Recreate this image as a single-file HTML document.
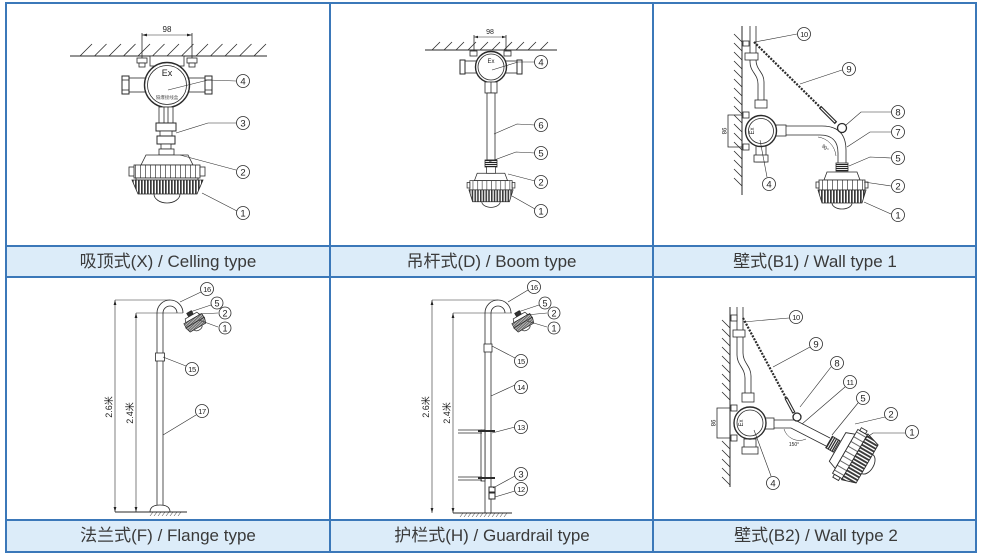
<!DOCTYPE html>
<html><head><meta charset="utf-8"><style>
html,body{margin:0;padding:0;background:#fff;width:983px;height:558px;overflow:hidden}
svg{display:block}
</style></head><body>
<svg width="983" height="558" viewBox="0 0 983 558" xmlns="http://www.w3.org/2000/svg">
<defs>
<pattern id="fins" width="3" height="10" patternUnits="userSpaceOnUse"><rect width="3" height="10" fill="#fff"/><rect width="1.7" height="10" fill="#3a3a3a"/></pattern>
<pattern id="posts" width="5" height="10" patternUnits="userSpaceOnUse"><rect width="5" height="10" fill="#fff"/><rect width="0.8" height="10" fill="#555"/></pattern>
<pattern id="thr" width="10" height="2" patternUnits="userSpaceOnUse"><rect width="10" height="2" fill="#fff"/><rect width="10" height="1.1" fill="#222"/></pattern>
</defs>

<!-- caption bands -->
<rect x="6" y="246" width="970" height="31" fill="#dcecf9"/>
<rect x="6" y="520" width="970" height="32" fill="#dcecf9"/>

<!-- ============ CELL 1 : Ceiling ============ -->
<g stroke="#2a2a2a" stroke-width="0.8" fill="none">
 <line x1="70" y1="56" x2="267" y2="56" stroke-width="1"/>
 <line x1="80" y1="56" x2="92" y2="44"/><line x1="94.5" y1="56" x2="106.5" y2="44"/><line x1="109" y1="56" x2="121" y2="44"/><line x1="123.5" y1="56" x2="135.5" y2="44"/><line x1="138" y1="56" x2="150" y2="44"/><line x1="152.5" y1="56" x2="164.5" y2="44"/><line x1="167" y1="56" x2="179" y2="44"/><line x1="181.5" y1="56" x2="193.5" y2="44"/><line x1="196" y1="56" x2="208" y2="44"/><line x1="210.5" y1="56" x2="222.5" y2="44"/><line x1="225" y1="56" x2="237" y2="44"/><line x1="239.5" y1="56" x2="251.5" y2="44"/><line x1="254" y1="56" x2="266" y2="44"/>
 <!-- dimension -->
 <line x1="142" y1="33" x2="142" y2="66"/><line x1="192" y1="33" x2="192" y2="66"/>
 <line x1="142" y1="35" x2="192" y2="35" stroke-width="0.6"/>
 <!-- bolts -->
 <rect x="137" y="58" width="10" height="5" fill="#fff"/><rect x="139" y="63" width="6" height="4" fill="#fff"/>
 <rect x="187" y="58" width="10" height="5" fill="#fff"/><rect x="189" y="63" width="6" height="4" fill="#fff"/>
 <rect x="150" y="56" width="34" height="10" fill="#fff"/>
 <!-- side pipes -->
 <rect x="128" y="78" width="22" height="14" fill="#fff"/>
 <rect x="122" y="76" width="7" height="18" fill="#fff" stroke-width="1"/>
 <line x1="122" y1="80" x2="129" y2="80"/><line x1="122" y1="90" x2="129" y2="90"/>
 <rect x="184" y="78" width="22" height="14" fill="#fff"/>
 <rect x="205" y="76" width="7" height="18" fill="#fff" stroke-width="1"/>
 <line x1="205" y1="80" x2="212" y2="80"/><line x1="205" y1="90" x2="212" y2="90"/>
 <!-- box -->
 <circle cx="167" cy="85" r="22.5" stroke-width="1.4" fill="#fff"/>
 <circle cx="167" cy="85" r="19.5"/>
 <!-- stem -->
 <rect x="159" y="107" width="14" height="16" fill="#fff"/>
 <line x1="164" y1="107" x2="164" y2="123"/><line x1="168" y1="107" x2="168" y2="123"/>
 <rect x="156" y="123" width="20" height="8" fill="#fff" stroke-width="1"/>
 <rect x="160" y="131" width="12" height="5" fill="#fff"/>
 <rect x="157" y="136" width="18" height="8" fill="#fff" stroke-width="1"/>
 <rect x="161" y="144" width="10" height="5" fill="#fff"/>
 <!-- lamp -->
 <rect x="159" y="149" width="15" height="6" fill="#fff"/>
 <path d="M141,165 L146,155 L188,155 L193,165 Z" fill="#fff"/>
 <rect x="134" y="165" width="66" height="13" fill="url(#posts)"/>
 <rect x="129" y="167" width="5" height="9" fill="#fff"/><rect x="200" y="167" width="5" height="9" fill="#fff"/>
 <rect x="136" y="178" width="62" height="2" fill="#fff"/>
 <polygon points="132,180 203,180 197,194 138,194" fill="url(#fins)"/>
 <path d="M154,194 A13,9 0 0 0 180,194"/>
 <!-- leaders -->
 <polyline points="236,81 208,80 168,90" stroke-width="0.6"/>
 <polyline points="236,123 208,123 176,133" stroke-width="0.6"/>
 <line x1="236" y1="170" x2="180" y2="155" stroke-width="0.6"/>
 <line x1="237" y1="211" x2="202" y2="193" stroke-width="0.6"/>
</g>
<polygon points="142,35 147,33.6 147,36.4" fill="#222"/><polygon points="192,35 187,33.6 187,36.4" fill="#222"/>

<!-- ============ CELL 2 : Boom ============ -->
<g stroke="#2a2a2a" stroke-width="0.8" fill="none">
 <line x1="425" y1="50" x2="557" y2="50" stroke-width="1"/>
 <line x1="432" y1="50" x2="440" y2="42"/><line x1="444" y1="50" x2="452" y2="42"/><line x1="456" y1="50" x2="464" y2="42"/><line x1="468" y1="50" x2="476" y2="42"/><line x1="480" y1="50" x2="488" y2="42"/><line x1="492" y1="50" x2="500" y2="42"/><line x1="504" y1="50" x2="512" y2="42"/><line x1="516" y1="50" x2="524" y2="42"/><line x1="528" y1="50" x2="536" y2="42"/><line x1="540" y1="50" x2="548" y2="42"/>
 <line x1="474" y1="35" x2="474" y2="56"/><line x1="506" y1="35" x2="506" y2="56"/>
 <line x1="474" y1="37" x2="506" y2="37" stroke-width="0.6"/>
 <rect x="470" y="51" width="7" height="5" fill="#fff"/><rect x="504" y="51" width="7" height="5" fill="#fff"/>
 <rect x="463" y="61" width="14" height="12" fill="#fff"/>
 <rect x="460" y="60" width="5" height="14" fill="#fff" stroke-width="1"/>
 <rect x="505" y="61" width="14" height="12" fill="#fff"/>
 <rect x="517" y="60" width="5" height="14" fill="#fff" stroke-width="1"/>
 <circle cx="491" cy="67" r="15.5" stroke-width="1.4" fill="#fff"/>
 <circle cx="491" cy="67" r="13"/>
 <rect x="485" y="82" width="12" height="11" fill="#fff"/>
 <line x1="491" y1="82" x2="491" y2="93"/>
 <rect x="487" y="93" width="8" height="67" fill="#fff"/>
 <rect x="485" y="160" width="12" height="7" fill="url(#thr)"/>
 <g transform="translate(491,165) scale(0.92)">
  <path d="M-18,17 L-15,9 L15,9 L18,17 Z" fill="#fff"/>
  <rect x="-5" y="2" width="10" height="7" fill="#fff"/>
  <rect x="-23" y="17" width="46" height="10" fill="url(#posts)"/>
  <rect x="-26" y="19" width="3" height="6" fill="#fff"/><rect x="23" y="19" width="3" height="6" fill="#fff"/>
  <polygon points="-24,27 24,27 20,40 -20,40" fill="url(#fins)"/>
  <path d="M-10,40 A10,6 0 0 0 10,40"/>
 </g>
 <polyline points="535,62 518,62 492,70" stroke-width="0.6"/>
 <polyline points="535,125 517,124 494,134" stroke-width="0.6"/>
 <polyline points="535,153 516,152 489,162" stroke-width="0.6"/>
 <line x1="535" y1="181" x2="508" y2="174" stroke-width="0.6"/>
 <line x1="535" y1="209" x2="512" y2="196" stroke-width="0.6"/>
</g>
<polygon points="474,37 478,35.8 478,38.2" fill="#222"/><polygon points="506,37 502,35.8 502,38.2" fill="#222"/>

<!-- ============ CELL 3 : Wall type 1 ============ -->
<g stroke="#2a2a2a" stroke-width="0.8" fill="none">
 <line x1="742" y1="26" x2="742" y2="195" stroke-width="1"/>
 <line x1="734" y1="34" x2="742" y2="42"/><line x1="734" y1="43" x2="742" y2="51"/><line x1="734" y1="52" x2="742" y2="60"/><line x1="734" y1="61" x2="742" y2="69"/><line x1="734" y1="70" x2="742" y2="78"/><line x1="734" y1="79" x2="742" y2="87"/><line x1="734" y1="88" x2="742" y2="96"/><line x1="734" y1="97" x2="742" y2="105"/><line x1="734" y1="106" x2="742" y2="114"/><line x1="734" y1="115" x2="742" y2="123"/><line x1="734" y1="124" x2="742" y2="132"/><line x1="734" y1="133" x2="742" y2="141"/><line x1="734" y1="142" x2="742" y2="150"/><line x1="734" y1="151" x2="742" y2="159"/><line x1="734" y1="160" x2="742" y2="168"/><line x1="734" y1="169" x2="742" y2="177"/><line x1="734" y1="178" x2="742" y2="186"/>
 <path d="M750,26 L750,62 C750,72 758,74 758,84 L758,100"/>
 <path d="M756,26 L756,60 C756,70 764,72 764,82 L764,100"/>
 <rect x="743" y="41" width="6" height="5" fill="#fff"/>
 <rect x="745" y="53" width="13" height="7" fill="#fff"/>
 <polyline points="742,115 728,115 728,147 742,147"/>
 <rect x="743" y="112" width="6" height="6" fill="#fff"/><rect x="743" y="144" width="6" height="6" fill="#fff"/>
 <rect x="755" y="100" width="12" height="8" fill="#fff"/>
 <rect x="756" y="146" width="10" height="16" fill="#fff"/>
 <rect x="754" y="155" width="14" height="7" fill="#fff"/>
 <rect x="776" y="125" width="10" height="11" fill="#fff"/>
 <path d="M786,126 L822,126 Q846,126 846,150 L846,163"/>
 <path d="M786,135 L820,135 Q838,135 838,153 L838,163"/>
 <path d="M818,137 A21,21 0 0 1 836,156" stroke-width="0.5"/>
 <circle cx="761" cy="131" r="15.5" stroke-width="1.4" fill="#fff"/>
 <circle cx="761" cy="131" r="12.5"/>
 <line x1="754" y1="42" x2="820" y2="107" stroke-width="2.2" stroke-dasharray="2 1.3"/>
 <line x1="820" y1="107" x2="836" y2="123" stroke-width="3.4"/>
 <line x1="821" y1="108" x2="835" y2="122" stroke="#fff" stroke-width="1.2"/>
 <circle cx="842" cy="128" r="4.5" stroke-width="1.3" fill="#fff"/>
 <rect x="836" y="163" width="12" height="8" fill="url(#thr)"/>
 <g transform="translate(842,163)">
  <path d="M-18,17 L-15,9 L15,9 L18,17 Z" fill="#fff"/>
  <rect x="-23" y="17" width="46" height="10" fill="url(#posts)"/>
  <rect x="-26" y="19" width="3" height="6" fill="#fff"/><rect x="23" y="19" width="3" height="6" fill="#fff"/>
  <polygon points="-24,27 24,27 20,40 -20,40" fill="url(#fins)"/>
  <path d="M-10,40 A10,6 0 0 0 10,40"/>
 </g>
 <line x1="797" y1="34" x2="755" y2="42" stroke-width="0.6"/>
 <line x1="842" y1="70" x2="800" y2="84" stroke-width="0.6"/>
 <polyline points="891,112 861,112 846,125" stroke-width="0.6"/>
 <polyline points="891,132 870,132 847,147" stroke-width="0.6"/>
 <polyline points="891,158 870,157 849,166" stroke-width="0.6"/>
 <line x1="891" y1="186" x2="864" y2="182" stroke-width="0.6"/>
 <line x1="891" y1="214" x2="864" y2="202" stroke-width="0.6"/>
 <line x1="767" y1="177" x2="760" y2="140" stroke-width="0.6"/>
</g>

<!-- ============ CELL 4 : Flange ============ -->
<g stroke="#2a2a2a" stroke-width="0.8" fill="none">
 <path d="M157,510 L157,313 A13,13 0 0 1 183,313"/>
 <path d="M163,510 L163,313 A7,7 0 0 1 177,313"/>
 <rect x="155.5" y="353" width="9" height="8" fill="#fff"/>
 <path d="M150,512 Q150,505 160,505 Q170,505 170,512" fill="#fff"/>
 <line x1="115" y1="300" x2="170" y2="300" stroke-width="0.6"/>
 <line x1="115" y1="300" x2="115" y2="512" stroke-width="0.6"/>
 <line x1="136" y1="313" x2="183" y2="313" stroke-width="0.6"/>
 <line x1="136" y1="313" x2="136" y2="512" stroke-width="0.6"/>
 <line x1="115" y1="512" x2="187" y2="512" stroke-width="1"/>
 <path d="M150,516 L153,512 M154,516 L157,512 M158,516 L161,512 M162,516 L165,512 M166,516 L169,512 M170,516 L173,512 M174,516 L177,512 M178,516 L181,512" stroke-width="0.5"/>
 <g transform="translate(189,312) rotate(-30) scale(0.45)" stroke-width="1.6">
  <rect x="-6" y="0" width="12" height="8" fill="#333"/>
  <path d="M-18,17 L-15,9 L15,9 L18,17 Z" fill="#fff"/>
  <rect x="-23" y="17" width="46" height="10" fill="url(#fins)"/>
  <polygon points="-24,27 24,27 20,40 -20,40" fill="url(#fins)"/>
  <path d="M-10,40 A10,6 0 0 0 10,40"/>
 </g>
 <line x1="201" y1="292" x2="180" y2="302" stroke-width="0.6"/>
 <line x1="211" y1="305" x2="190" y2="312" stroke-width="0.6"/>
 <line x1="218" y1="313" x2="198" y2="314" stroke-width="0.6"/>
 <line x1="218" y1="327" x2="199" y2="320" stroke-width="0.6"/>
 <line x1="186" y1="366" x2="163" y2="357" stroke-width="0.6"/>
 <line x1="196" y1="415" x2="163" y2="435" stroke-width="0.6"/>
</g>
<polygon points="115,300 113.6,305 116.4,305" fill="#222"/><polygon points="115,512 113.6,507 116.4,507" fill="#222"/>
<polygon points="136,313 134.6,318 137.4,318" fill="#222"/><polygon points="136,512 134.6,507 137.4,507" fill="#222"/>

<!-- ============ CELL 5 : Guardrail ============ -->
<g stroke="#2a2a2a" stroke-width="0.8" fill="none">
 <path d="M485,513 L485,313 A13,13 0 0 1 511,313"/>
 <path d="M491,513 L491,313 A7,7 0 0 1 505,313"/>
 <rect x="484" y="344" width="8" height="8" fill="#fff"/>
 <rect x="481" y="430" width="4" height="51" fill="#fff"/>
 <line x1="458" y1="430" x2="482" y2="430"/><line x1="458" y1="433" x2="482" y2="433"/>
 <line x1="458" y1="477" x2="482" y2="477"/><line x1="458" y1="480" x2="482" y2="480"/>
 <line x1="478" y1="431" x2="495" y2="431" stroke-width="2"/>
 <line x1="478" y1="478" x2="495" y2="478" stroke-width="2"/>
 <rect x="489" y="487" width="6" height="5" fill="#fff" stroke-width="1"/>
 <rect x="489" y="493" width="6" height="6" fill="#fff" stroke-width="1"/>
 <line x1="432" y1="300" x2="498" y2="300" stroke-width="0.6"/>
 <line x1="432" y1="300" x2="432" y2="513" stroke-width="0.6"/>
 <line x1="453" y1="313" x2="512" y2="313" stroke-width="0.6"/>
 <line x1="453" y1="313" x2="453" y2="513" stroke-width="0.6"/>
 <line x1="453" y1="513" x2="512" y2="513" stroke-width="1"/>
 <path d="M460,517 L463,513 M464,517 L467,513 M468,517 L471,513 M472,517 L475,513 M476,517 L479,513 M480,517 L483,513 M484,517 L487,513 M488,517 L491,513 M492,517 L495,513 M496,517 L499,513 M500,517 L503,513 M504,517 L507,513" stroke-width="0.5"/>
 <g transform="translate(517,312) rotate(-30) scale(0.45)" stroke-width="1.6">
  <rect x="-6" y="0" width="12" height="8" fill="#333"/>
  <path d="M-18,17 L-15,9 L15,9 L18,17 Z" fill="#fff"/>
  <rect x="-23" y="17" width="46" height="10" fill="url(#fins)"/>
  <polygon points="-24,27 24,27 20,40 -20,40" fill="url(#fins)"/>
  <path d="M-10,40 A10,6 0 0 0 10,40"/>
 </g>
 <line x1="528" y1="290" x2="508" y2="302" stroke-width="0.6"/>
 <line x1="539" y1="305" x2="518" y2="312" stroke-width="0.6"/>
 <line x1="547" y1="313" x2="526" y2="315" stroke-width="0.6"/>
 <line x1="547" y1="327" x2="527" y2="321" stroke-width="0.6"/>
 <line x1="515" y1="358" x2="492" y2="346" stroke-width="0.6"/>
 <line x1="515" y1="385" x2="491" y2="396" stroke-width="0.6"/>
 <line x1="515" y1="427" x2="492" y2="433" stroke-width="0.6"/>
 <line x1="515" y1="476" x2="493" y2="488" stroke-width="0.6"/>
 <line x1="515" y1="491" x2="495" y2="497" stroke-width="0.6"/>
</g>
<polygon points="432,300 430.6,305 433.4,305" fill="#222"/><polygon points="432,513 430.6,508 433.4,508" fill="#222"/>
<polygon points="453,313 451.6,318 454.4,318" fill="#222"/><polygon points="453,513 451.6,508 454.4,508" fill="#222"/>

<!-- ============ CELL 6 : Wall type 2 ============ -->
<g stroke="#2a2a2a" stroke-width="0.8" fill="none">
 <line x1="730" y1="307" x2="730" y2="487" stroke-width="1"/>
 <line x1="722" y1="320" x2="730" y2="328"/><line x1="722" y1="329" x2="730" y2="337"/><line x1="722" y1="338" x2="730" y2="346"/><line x1="722" y1="347" x2="730" y2="355"/><line x1="722" y1="356" x2="730" y2="364"/><line x1="722" y1="365" x2="730" y2="373"/><line x1="722" y1="374" x2="730" y2="382"/><line x1="722" y1="383" x2="730" y2="391"/><line x1="722" y1="392" x2="730" y2="400"/><line x1="722" y1="441" x2="730" y2="449"/><line x1="722" y1="450" x2="730" y2="458"/><line x1="722" y1="459" x2="730" y2="467"/><line x1="722" y1="468" x2="730" y2="476"/><line x1="722" y1="477" x2="730" y2="485"/>
 <path d="M737,307 L737,355 C737,365 745,368 745,378 L745,394"/>
 <path d="M743,307 L743,353 C743,363 751,366 751,376 L751,394"/>
 <rect x="731" y="315" width="6" height="6" fill="#fff"/>
 <rect x="733" y="330" width="12" height="7" fill="#fff"/>
 <rect x="742" y="393" width="12" height="9" fill="#fff"/>
 <polyline points="730,408 717,408 717,438 730,438"/>
 <rect x="731" y="405" width="6" height="6" fill="#fff"/><rect x="731" y="435" width="6" height="6" fill="#fff"/>
 <rect x="744" y="439" width="12" height="14" fill="#fff"/>
 <rect x="742" y="447" width="16" height="7" fill="#fff"/>
 <rect x="765" y="418" width="9" height="11" fill="#fff"/>
 <polyline points="774,420 795,420 830,438"/>
 <polyline points="774,428 791,428 826,446"/>
 <path d="M784,429 A16,16 0 0 0 806,439" stroke-width="0.5"/>
 <circle cx="750" cy="423" r="16" stroke-width="1.4" fill="#fff"/>
 <circle cx="750" cy="423" r="13"/>
 <line x1="743" y1="318" x2="786" y2="398" stroke-width="2.2" stroke-dasharray="2 1.3"/>
 <line x1="786" y1="398" x2="794" y2="413" stroke-width="3.4"/>
 <line x1="786.5" y1="399" x2="793.5" y2="412" stroke="#fff" stroke-width="1.2"/>
 <circle cx="797" cy="417" r="4" stroke-width="1.3" fill="#fff"/>
 <g transform="translate(829,442) rotate(-60) scale(1.1)">
  <rect x="-6" y="0" width="12" height="8" fill="url(#thr)"/>
  <path d="M-18,17 L-15,9 L15,9 L18,17 Z" fill="#fff"/>
  <rect x="-23" y="17" width="46" height="10" fill="url(#posts)"/>
  <rect x="-26" y="19" width="3" height="6" fill="#fff"/><rect x="23" y="19" width="3" height="6" fill="#fff"/>
  <polygon points="-24,27 24,27 20,40 -20,40" fill="url(#fins)"/>
  <path d="M-10,40 A10,6 0 0 0 10,40"/>
 </g>
 <line x1="789" y1="318" x2="743" y2="322" stroke-width="0.6"/>
 <line x1="810" y1="347" x2="773" y2="367" stroke-width="0.6"/>
 <line x1="831" y1="367" x2="800" y2="407" stroke-width="0.6"/>
 <line x1="845" y1="387" x2="802" y2="424" stroke-width="0.6"/>
 <line x1="858" y1="403" x2="832" y2="435" stroke-width="0.6"/>
 <line x1="885" y1="417" x2="855" y2="424" stroke-width="0.6"/>
 <polyline points="905,433 873,433 866,438" stroke-width="0.6"/>
 <line x1="771" y1="476" x2="754" y2="430" stroke-width="0.6"/>
</g>

<!-- table lines -->
<g stroke="#3b78b9" stroke-width="2" fill="none">
 <rect x="6" y="3" width="970" height="549"/>
 <line x1="6" y1="246" x2="976" y2="246"/>
 <line x1="6" y1="277" x2="976" y2="277"/>
 <line x1="6" y1="520" x2="976" y2="520"/>
 <line x1="330" y1="3" x2="330" y2="552"/>
 <line x1="653" y1="3" x2="653" y2="552"/>
</g>

<!-- small drawing texts -->
<g font-family="'Liberation Sans', sans-serif" fill="#222" text-anchor="middle">
 <text x="167" y="32" font-size="8">98</text>
 <text x="167" y="76" font-size="9">Ex</text>
 <text x="490" y="34" font-size="7">98</text>
 <text x="491" y="63" font-size="6">Ex</text>
 <text x="0" y="0" font-size="6" transform="translate(722,131) rotate(90)">98</text>
 <text x="0" y="0" font-size="6" transform="translate(754,131) rotate(-90)">Ex</text>
 <text x="0" y="0" font-size="5" transform="translate(824,149) rotate(45)">90°</text>
 <text x="0" y="0" font-size="6" transform="translate(711,423) rotate(90)">98</text>
 <text x="0" y="0" font-size="6" transform="translate(743,423) rotate(-90)">Ex</text>
 <text x="794" y="446" font-size="5">150°</text>
</g>
<g font-family="'Liberation Sans','Noto Sans CJK SC',sans-serif" fill="#222" text-anchor="middle" font-size="9">
 <text x="0" y="0" transform="translate(112,407) rotate(-90)">2.6米</text>
 <text x="0" y="0" transform="translate(133,413) rotate(-90)">2.4米</text>
 <text x="0" y="0" transform="translate(429,407) rotate(-90)">2.6米</text>
 <text x="0" y="0" transform="translate(450,413) rotate(-90)">2.4米</text>
 <text x="167" y="99" font-size="4.5" fill="#555">隔爆接线盒</text>
</g>

<!-- callout circles -->
<g stroke="#2a2a2a" stroke-width="0.8" fill="#fff">
 <circle cx="243" cy="81" r="6.5"/><circle cx="243" cy="123" r="6.5"/><circle cx="243" cy="172" r="6.5"/><circle cx="243" cy="213" r="6.5"/>
 <circle cx="541" cy="62" r="6.5"/><circle cx="541" cy="125" r="6.5"/><circle cx="541" cy="153" r="6.5"/><circle cx="541" cy="182" r="6.5"/><circle cx="541" cy="211" r="6.5"/>
 <circle cx="804" cy="34" r="6.5"/><circle cx="849" cy="69" r="6.5"/><circle cx="898" cy="112" r="6.5"/><circle cx="898" cy="132" r="6.5"/><circle cx="898" cy="158" r="6.5"/><circle cx="898" cy="186" r="6.5"/><circle cx="898" cy="215" r="6.5"/><circle cx="769" cy="184" r="6.5"/>
 <circle cx="207" cy="289" r="6.5"/><circle cx="217" cy="303" r="6"/><circle cx="225" cy="313" r="6"/><circle cx="225" cy="328" r="6"/><circle cx="192" cy="369" r="6.5"/><circle cx="202" cy="411" r="6.5"/>
 <circle cx="534" cy="287" r="6.5"/><circle cx="545" cy="303" r="6"/><circle cx="554" cy="313" r="6"/><circle cx="554" cy="328" r="6"/><circle cx="521" cy="361" r="6.5"/><circle cx="521" cy="387" r="6.5"/><circle cx="521" cy="427" r="6.5"/><circle cx="521" cy="474" r="6.5"/><circle cx="521" cy="489" r="6.5"/>
 <circle cx="796" cy="317" r="6.5"/><circle cx="816" cy="344" r="6.5"/><circle cx="837" cy="363" r="6.5"/><circle cx="850" cy="382" r="6.5"/><circle cx="863" cy="398" r="6.5"/><circle cx="891" cy="414" r="6.5"/><circle cx="912" cy="432" r="6.5"/><circle cx="773" cy="483" r="6.5"/>
</g>
<g font-family="'Liberation Sans', sans-serif" fill="#222" text-anchor="middle" font-size="9.5">
 <text x="243" y="84.5">4</text><text x="243" y="126.5">3</text><text x="243" y="175.5">2</text><text x="243" y="216.5">1</text>
 <text x="541" y="65.5">4</text><text x="541" y="128.5">6</text><text x="541" y="156.5">5</text><text x="541" y="185.5">2</text><text x="541" y="214.5">1</text>
 <text x="849" y="72.5">9</text><text x="898" y="115.5">8</text><text x="898" y="135.5">7</text><text x="898" y="161.5">5</text><text x="898" y="189.5">2</text><text x="898" y="218.5">1</text><text x="769" y="187.5">4</text>
 <text x="217" y="306.3" font-size="9">5</text><text x="225" y="316.3" font-size="9">2</text><text x="225" y="331.3" font-size="9">1</text>
 <text x="545" y="306.3" font-size="9">5</text><text x="554" y="316.3" font-size="9">2</text><text x="554" y="331.3" font-size="9">1</text>
 <text x="521" y="477.5">3</text>
 <text x="816" y="347.5">9</text><text x="837" y="366.5">8</text><text x="863" y="401.5">5</text><text x="891" y="417.5">2</text><text x="912" y="435.5">1</text><text x="773" y="486.5">4</text>
</g>
<g font-family="'Liberation Sans', sans-serif" fill="#222" text-anchor="middle" font-size="7.5" letter-spacing="-0.4">
 <text x="804" y="36.8">10</text>
 <text x="207" y="291.8">16</text><text x="192" y="371.8">15</text><text x="202" y="413.8">17</text>
 <text x="534" y="289.8">16</text><text x="521" y="363.8">15</text><text x="521" y="389.8">14</text><text x="521" y="429.8">13</text><text x="521" y="491.8">12</text>
 <text x="796" y="319.8">10</text><text x="850" y="384.8">11</text>
</g>

<!-- captions -->
<g font-family="'Liberation Sans','Noto Sans CJK SC',sans-serif" font-size="17" fill="#3a3a3a" text-anchor="middle">
 <text x="168" y="267">吸顶式(X) / Celling type</text>
 <text x="491.5" y="267">吊杆式(D) / Boom type</text>
 <text x="815" y="267">壁式(B1) / Wall type 1</text>
 <text x="168" y="541">法兰式(F) / Flange type</text>
 <text x="492" y="541">护栏式(H) / Guardrail type</text>
 <text x="816" y="541">壁式(B2) / Wall type 2</text>
</g>
</svg>
</body></html>
